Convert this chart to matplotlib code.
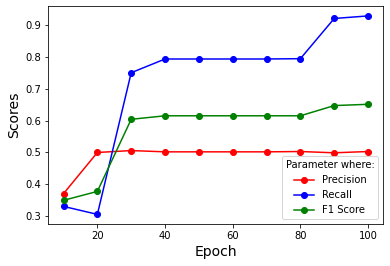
import matplotlib
matplotlib.use("Agg")
import matplotlib.pyplot as plt

# epochs and scores
epochs = [10, 20, 30, 40, 50, 60, 70, 80, 90, 100]
precision = [0.371, 0.500, 0.506, 0.502, 0.502, 0.502, 0.502, 0.503, 0.499, 0.503]
recall = [0.331, 0.306, 0.750, 0.793, 0.793, 0.793, 0.793, 0.794, 0.920, 0.928]
f1_score = [0.350, 0.378, 0.604, 0.615, 0.615, 0.615, 0.615, 0.615, 0.647, 0.651]

fig = plt.figure(figsize=(390 / 72, 266 / 72), dpi=72)
ax = fig.add_axes([48.3 / 390, 1 - 224.3 / 266, (383.3 - 48.3) / 390, (224.3 - 6) / 266])

ax.plot(epochs, precision, 'r-o', label='Precision')
ax.plot(epochs, recall, 'b-o', label='Recall')
ax.plot(epochs, f1_score, 'g-o', label='F1 Score')

ax.set_xlabel('Epoch', fontsize=14)
ax.set_ylabel('Scores', fontsize=14)
ax.legend(title='Parameter where:', loc='lower right')

fig.savefig('out.png', dpi=72)
